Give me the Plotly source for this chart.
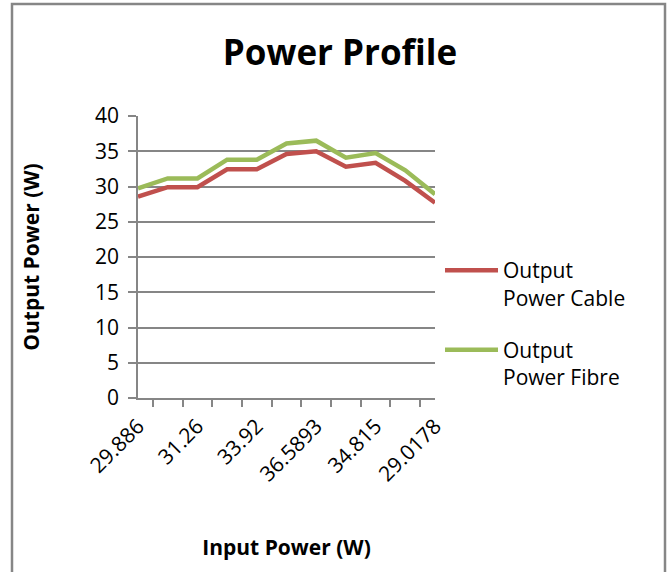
import plotly.graph_objects as go

# Input power categories (only every other label is shown on the axis)
input_power = ["29.886", "31.25", "31.26", "33.9", "33.92", "36.21",
               "36.5893", "34.18", "34.815", "32.4", "29.0178"]
shown_labels = ["29.886", "", "31.26", "", "33.92", "", "36.5893", "", "34.815", "", "29.0178"]

output_cable = [28.55, 29.9, 29.9, 32.45, 32.45, 34.6, 35.0, 32.8, 33.35, 30.8, 27.7]
output_fibre = [29.75, 31.15, 31.15, 33.8, 33.8, 36.1, 36.5, 34.1, 34.75, 32.3, 28.9]

FONT = "Open Sans"
GREY = "#868686"
FS = 21

fig = go.Figure()
fig.add_trace(go.Scatter(x=input_power, y=output_cable, mode="lines",
                         name="Output<br>Power Cable", legendgroup="a",
                         line=dict(color="#C0504D", width=4.5)))
fig.add_trace(go.Scatter(x=input_power, y=output_fibre, mode="lines",
                         name="Output<br>Power Fibre", legendgroup="b",
                         line=dict(color="#9BBB59", width=4.5)))

px_left, px_right, px_top, px_bottom = 138, 435, 116, 398
pw = px_right - px_left
ph = px_bottom - px_top

fig.add_shape(type="rect", xref="paper", yref="paper",
              x0=(12 - px_left) / pw, x1=(665 - px_left) / pw,
              y0=(px_bottom - 590) / ph, y1=(px_bottom - 4) / ph,
              line=dict(color=GREY, width=2.5), fillcolor="rgba(0,0,0,0)", layer="below")

fig.update_layout(
    width=672, height=572,
    margin=dict(l=px_left, r=672 - px_right, t=px_top, b=572 - px_bottom),
    paper_bgcolor="white", plot_bgcolor="white",
    font=dict(family=FONT, size=FS, color="black"),
    title=dict(text="<b>Power Profile</b>", x=340 / 672, xanchor="center",
               y=1 - 53 / 572, yanchor="middle", yref="container",
               font=dict(family=FONT, size=35, color="black")),
    showlegend=True,
    legend=dict(x=(440 - px_left) / pw, xanchor="left",
                y=(px_bottom - 250) / ph, yanchor="top",
                valign="top", tracegroupgap=22, itemwidth=53,
                font=dict(family=FONT, size=FS, color="black"),
                bgcolor="rgba(0,0,0,0)"),
)

fig.update_xaxes(
    type="category", categoryorder="array", categoryarray=input_power,
    tickmode="array", tickvals=input_power, ticktext=shown_labels,
    tickson="boundaries", ticks="outside", ticklen=7, tickcolor=GREY, tickwidth=1.5,
    tickangle=-45, ticklabelstandoff=6,
    showgrid=False, showline=True, linecolor=GREY, linewidth=1.5,
    tickfont=dict(family=FONT, size=FS, color="black"),
    title=dict(text="<b>Input Power (W)</b>", standoff=54,
               font=dict(family=FONT, size=FS, color="black")),
    zeroline=False,
)
fig.update_yaxes(
    range=[0, 40], tickmode="linear", tick0=0, dtick=5,
    ticks="outside", ticklen=8, tickcolor=GREY, tickwidth=1.5,
    ticklabelstandoff=5,
    showgrid=True, gridcolor=GREY, gridwidth=1.5,
    showline=True, linecolor=GREY, linewidth=1.5, zeroline=False,
    tickfont=dict(family=FONT, size=FS, color="black"),
    title=dict(text="<b>Output Power (W)</b>", standoff=50,
               font=dict(family=FONT, size=FS, color="black")),
)

fig.write_html("out.html", config={"displayModeBar": False},
               post_script="document.body.style.margin='0';")
